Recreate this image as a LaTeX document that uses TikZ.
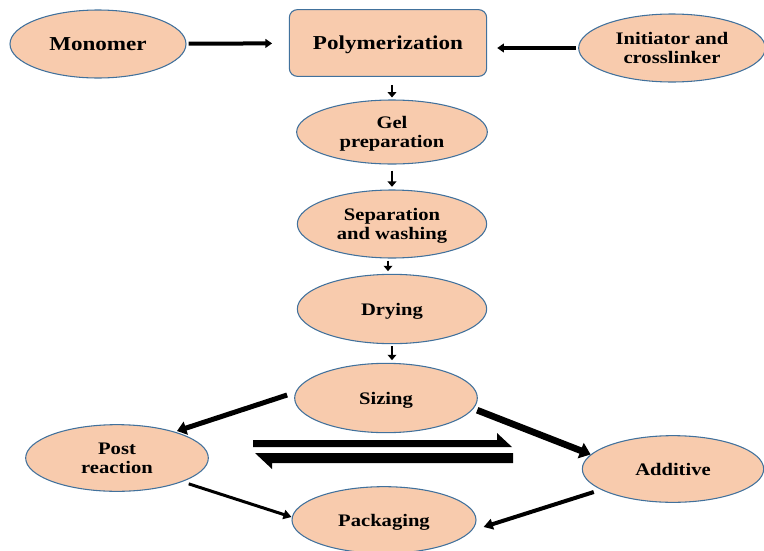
\documentclass[tikz,border=0pt]{standalone}
\usepackage{fontspec}
\setmainfont[FakeStretch=1.17]{Liberation Serif}
\usetikzlibrary{shapes.geometric,arrows.meta,calc}
\definecolor{peach}{HTML}{F8CBAD}
\definecolor{rim}{HTML}{41719C}
\tikzstyle{every node}=[font=\bfseries\fontsize{13.2}{14.5}\selectfont,align=center,inner sep=0pt,text depth=0pt]
\tikzstyle{bigtext}=[font=\bfseries\fontsize{14.8}{15}\selectfont]
\tikzstyle{stage}=[ellipse,draw=rim,fill=peach,line width=0.8pt]
\tikzstyle{reactor}=[rectangle,rounded corners=6pt,draw=rim,fill=peach,line width=0.8pt]
\tikzstyle{feed}=[line width=3pt,-{Triangle[length=5pt,width=6.5pt]}]
\tikzstyle{flow}=[line width=2pt,-{Triangle[length=4pt,width=6.5pt]}]

\begin{document}
\begin{tikzpicture}[x=0.75pt,y=-0.75pt]
    \useasboundingbox (0,0) rectangle (764,550);
    % main line
    \node[stage,bigtext,minimum width=132pt,minimum height=51pt] (mono) at (98,44) {Monomer};
    \node[reactor,bigtext,minimum width=148pt,minimum height=50pt] (poly) at (388,43) {Polymerization};
    \node[stage,minimum width=140pt,minimum height=51pt] (init) at (672,48) {Initiator and\\crosslinker};
    \node[stage,minimum width=143pt,minimum height=48pt] (gel) at (392,132) {Gel\\preparation};
    \node[stage,minimum width=142pt,minimum height=51pt] (sep) at (392,224) {Separation\\and washing};
    \node[stage,minimum width=142pt,minimum height=52pt] (dry) at (392,309) {Drying};
    \node[stage,minimum width=137pt,minimum height=52pt] (size) at (386,398) {Sizing};
    % after sizing
    \node[stage,minimum width=137pt,minimum height=50pt] (post) at (117,458) {Post\\reaction};
    \node[stage,minimum width=136pt,minimum height=50pt] (add) at (673,469) {Additive};
    \node[stage,minimum width=138pt,minimum height=50pt] (pack) at (384,520) {Packaging};

    \draw[feed,shorten <=1.5pt,shorten >=12.5pt] (mono) -- (poly);
    \draw[feed,shorten <=1.5pt,shorten >=7.5pt] (init.west) -- (init.west -| poly.east);
    \draw[flow,shorten <=6pt,shorten >=1.5pt] (poly.south -| gel.north) -- (gel.north);
    \draw[flow,shorten <=4.5pt,shorten >=2pt] (gel.south) -- (sep.north);
    \draw[flow,shorten <=1.5pt,shorten >=2pt] ([xshift=-3pt]sep.south) -- ([xshift=-3pt]dry.north);
    \draw[flow,shorten <=1.5pt,shorten >=2pt] (dry.south) -- (dry.south |- size.north);
    \draw[line width=3.75pt,-{Triangle[length=7pt,width=10pt]}] ([shift={(-7,-3)}]size.west) -- ([shift={(-5,-3)}]post.north east);
    \draw[line width=5pt,-{Triangle[length=8pt,width=12pt]},shorten <=3pt] (size.-7) -- (add.170);
    \draw[line width=2.25pt,-{Triangle[length=6pt,width=7pt]},shorten <=5pt] (post.-20) -- ([shift={(0,-3)}]pack.west);
    \draw[line width=3pt,-{Triangle[length=7pt,width=8pt]}] ([shift={(12,23)}]add.west) -- ([shift={(7,7)}]pack.east);

    % equilibrium
    \coordinate (fwdA) at (253,447);
    \coordinate (fwdB) at (512,447);
    \coordinate (bwdA) at (513,453);
    \coordinate (bwdB) at (255,453);
    \fill (fwdA) -- (fwdB) -- ++(-15,-14) -- ++(0,7) -- ($(fwdA)+(0,-7)$) -- cycle;
    \fill (bwdA) -- (bwdB) -- ++(17,16) -- ++(0,-6) -- ($(bwdA)+(0,10)$) -- cycle;
\end{tikzpicture}
\end{document}
